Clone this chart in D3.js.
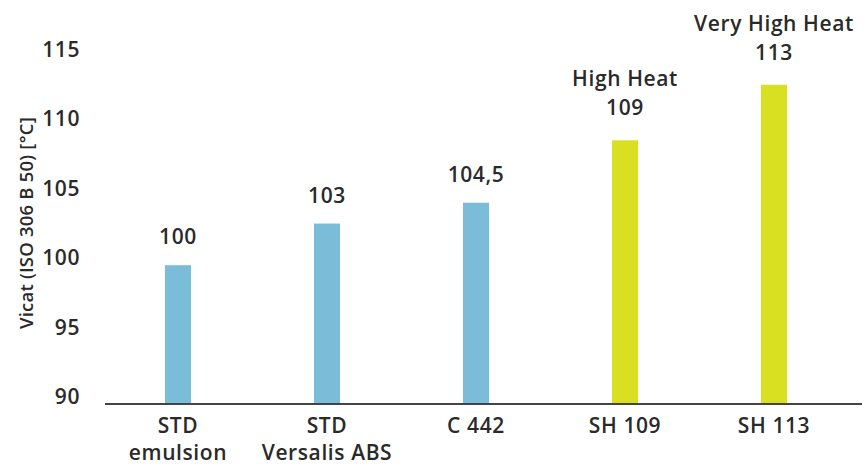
<!DOCTYPE html>
<html>
<head>
<meta charset="utf-8">
<script src="https://cdn.jsdelivr.net/npm/d3@7"></script>
<style>
  html, body { margin: 0; padding: 0; background: #fff; }
  svg { display: block; }
  text { font-family: "Open Sans", sans-serif; fill: #2a2a2a; }
</style>
</head>
<body>
<svg id="chart" width="864" height="465"></svg>
<script>
const categories = [["STD", "emulsion"], ["STD", "Versalis ABS"], ["C 442"], ["SH 109"], ["SH 113"]];
const values = [100, 103, 104.5, 109, 113];
const valueLabels = ["100", "103", "104,5", "109", "113"];
const groupLabels = [null, null, null, "High Heat", "Very High Heat"];
const barColors = ["#7bbcd9", "#7bbcd9", "#7bbcd9", "#d9e021", "#d9e021"];
const yTicks = [90, 95, 100, 105, 110, 115];
const yTitle = "Vicat (ISO 306 B 50) [°C]";

const svg = d3.select("#chart");
const keys = categories.map((c, i) => String(i));

const x = d3.scaleBand().domain(keys).range([103.5, 848.5])
  .paddingInner(0.825).paddingOuter(0.4125);
const y = d3.scaleLinear().domain([90, 115]).range([404, 57]);

const FS = "21px", LS = "0.6px";

// y tick labels
svg.append("g").selectAll("text").data(yTicks).join("text")
  .attr("x", 80).attr("y", d => y(d))
  .attr("text-anchor", "end")
  .style("font-size", FS).style("font-weight", 600).style("letter-spacing", LS)
  .text(d => d);

// y title
svg.append("text")
  .attr("transform", `translate(33,223) rotate(-90)`)
  .attr("text-anchor", "middle")
  .style("font-size", "18.5px").style("font-weight", 600).style("letter-spacing", "0.2px")
  .text(yTitle);

// bars
svg.append("g").selectAll("rect").data(values).join("rect")
  .attr("x", (d, i) => x(keys[i]))
  .attr("width", x.bandwidth())
  .attr("y", d => y(d))
  .attr("height", d => y(90) - y(d))
  .attr("fill", (d, i) => barColors[i]);

// x axis line
svg.append("line")
  .attr("x1", 105).attr("x2", 862)
  .attr("y1", y(90)).attr("y2", y(90))
  .attr("stroke", "#444").attr("stroke-width", 2);

// value labels
const lab = svg.append("g");
values.forEach((v, i) => {
  const cx = x(keys[i]) + x.bandwidth() / 2;
  const gap = groupLabels[i] ? 25 : 21;
  lab.append("text")
    .attr("x", cx).attr("y", y(v) - gap)
    .attr("text-anchor", "middle")
    .style("font-size", FS).style("font-weight", 600).style("letter-spacing", LS)
    .text(valueLabels[i]);
  if (groupLabels[i]) {
    lab.append("text")
      .attr("x", cx).attr("y", y(v) - gap - 29)
      .attr("text-anchor", "middle")
      .style("font-size", FS).style("font-weight", 600).style("letter-spacing", LS)
      .text(groupLabels[i]);
  }
});

// x category labels
categories.forEach((lines, i) => {
  const cx = x(keys[i]) + x.bandwidth() / 2;
  lines.forEach((t, j) => {
    svg.append("text")
      .attr("x", cx).attr("y", 433 + j * 27)
      .attr("text-anchor", "middle")
      .style("font-size", FS).style("font-weight", 600).style("letter-spacing", LS)
      .text(t);
  });
});
</script>
</body>
</html>
